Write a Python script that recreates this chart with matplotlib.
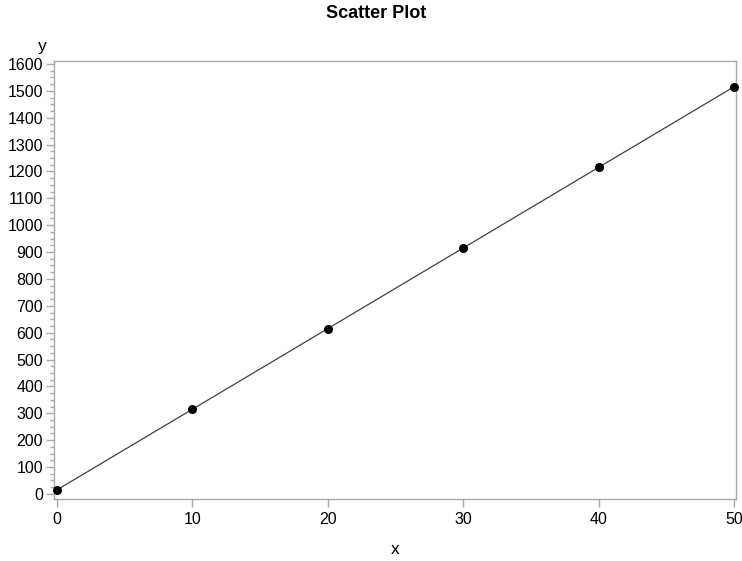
import matplotlib
matplotlib.use("Agg")
import matplotlib.pyplot as plt
from matplotlib.ticker import AutoMinorLocator

x = [0, 10, 20, 30, 40, 50]
y = [15, 315, 615, 915, 1215, 1515]
xticks = [0, 10, 20, 30, 40, 50]
yticks = list(range(0, 1700, 100))

plt.rcParams['font.family'] = ['Liberation Sans', 'DejaVu Sans']
fig = plt.figure(figsize=(7.42, 5.61), dpi=100)
ax = fig.add_axes([54/742, 1-499/561, (736-54)/742, (499-61)/561])

ax.plot(x, y, color='#404040', lw=0.9, zorder=2)
ax.scatter(x, y, s=30, color='black', zorder=3, clip_on=False)

ax.set_xlim(-0.22, 50.15)
ax.set_ylim(-19, 1611)
ax.set_xticks(xticks)
ax.set_yticks(yticks)
ax.yaxis.set_minor_locator(AutoMinorLocator(4))
for s in ax.spines.values():
    s.set_color('#a8a8a8')
    s.set_linewidth(1.0)
ax.tick_params(axis='both', which='major', colors='#a8a8a8', labelcolor='black',
               labelsize=11.5, length=6, width=1, direction='out')
ax.tick_params(axis='y', which='minor', colors='#a8a8a8', length=3, width=1)
ax.tick_params(axis='x', pad=3)
ax.tick_params(axis='y', pad=2)

fig.text(376/742, 1-14/561, 'Scatter Plot', ha='center', va='center', fontsize=13, fontweight='bold')
fig.text(42/742, 1-47/561, 'y', ha='center', va='center', fontsize=12.5)
fig.text(395/742, 1-549/561, 'x', ha='center', va='center', fontsize=12.5)

fig.savefig('out.png', dpi=100)
